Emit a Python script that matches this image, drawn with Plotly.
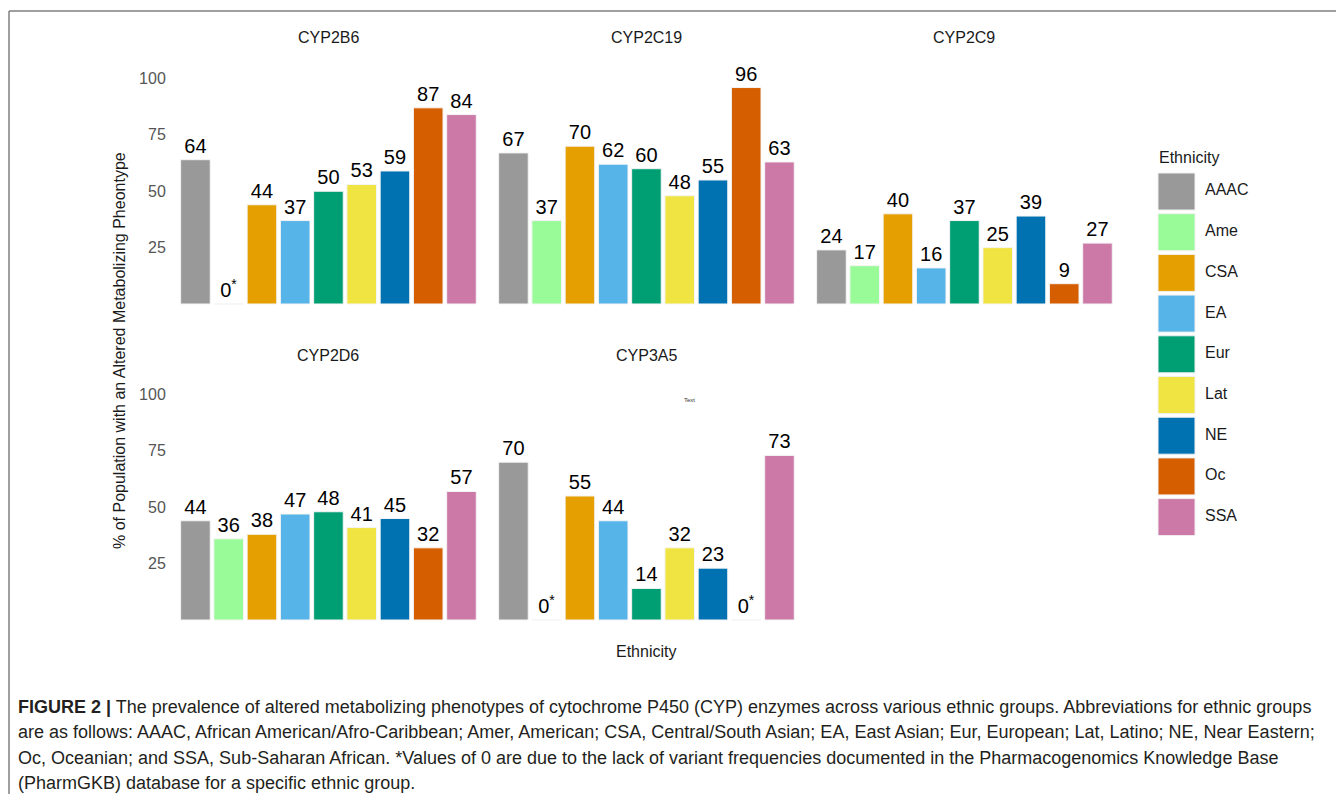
import plotly.graph_objects as go

W, H = 1344, 802          # browser window
OFF = 8                   # default page margin around the plot div
FW, FH = W - 2 * OFF, H - 2 * OFF

# ---------------- data ----------------
ethnicities = ["AAAC", "Ame", "CSA", "EA", "Eur", "Lat", "NE", "Oc", "SSA"]
colors = ["#999999", "#98FB98", "#E69F00", "#56B4E9", "#009E73",
          "#F0E442", "#0072B2", "#D55E00", "#CC79A7"]
genes = ["CYP2B6", "CYP2C19", "CYP2C9", "CYP2D6", "CYP3A5"]
cyp2b6 = [64, 0, 44, 37, 50, 53, 59, 87, 84]
cyp2c19 = [67, 37, 70, 62, 60, 48, 55, 96, 63]
cyp2c9 = [24, 17, 40, 16, 37, 25, 39, 9, 27]
cyp2d6 = [44, 36, 38, 47, 48, 41, 45, 32, 57]
cyp3a5 = [70, 0, 55, 44, 14, 32, 23, 0, 73]
y_ticks = [25, 50, 75, 100]
y_title = "% of Population with an Altered Metabolizing Pheontype"
x_title = "Ethnicity"
legend_title = "Ethnicity"
caption_lines = [
    "<b>FIGURE 2 |</b> The prevalence of altered metabolizing phenotypes of cytochrome P450 (CYP) enzymes across various ethnic groups. Abbreviations for ethnic groups",
    "are as follows: AAAC, African American/Afro-Caribbean; Amer, American; CSA, Central/South Asian; EA, East Asian; Eur, European; Lat, Latino; NE, Near Eastern;",
    "Oc, Oceanian; and SSA, Sub-Saharan African. *Values of 0 are due to the lack of variant frequencies documented in the Pharmacogenomics Knowledge Base",
    "(PharmGKB) database for a specific ethnic group.",
]
series = [cyp2b6, cyp2c19, cyp2c9, cyp2d6, cyp3a5]

# ---------------- layout helpers (page pixel -> paper) ----------------
def fx(p):
    return (p - OFF) / FW

def fy(p):
    return 1 - (p - OFF) / FH

FONT = "Liberation Sans, Arial, sans-serif"
col_px = [(178.8, 478.1), (496.8, 796.1), (814.8, 1114.1)]
row_px = [(69.5, 308.5), (385.5, 624.5)]
title_py = [38, 355]
positions = [(0, 0), (0, 1), (0, 2), (1, 0), (1, 1)]

fig = go.Figure()
layout = dict(
    width=FW, height=FH,
    margin=dict(l=0, r=0, t=0, b=0),
    paper_bgcolor="white", plot_bgcolor="white",
    showlegend=False, bargap=0.11,
    font=dict(family=FONT, size=16, color="#1a1a1a"),
)
annotations = []

for i, (gene, vals) in enumerate(zip(genes, series)):
    r, c = positions[i]
    n = "" if i == 0 else str(i + 1)
    labels = [str(v) if v > 0 else "0<sup>*</sup>" for v in vals]
    fig.add_trace(go.Bar(
        x=ethnicities, y=vals, text=labels,
        textposition="outside", constraintext="none", cliponaxis=False,
        textfont=dict(family=FONT, size=20, color="#000000"),
        marker=dict(color=colors, line=dict(color="#f4f4f4", width=1)),
        xaxis="x" + n, yaxis="y" + n, hoverinfo="x+y",
    ))
    x0, x1 = col_px[c]
    y0, y1 = row_px[r]
    layout["xaxis" + n] = dict(
        domain=[fx(x0), fx(x1)], type="category", categoryorder="array",
        categoryarray=ethnicities, range=[-0.5, 8.5], showticklabels=False,
        showgrid=False, zeroline=False, showline=False, ticks="",
        anchor="y" + n,
    )
    layout["yaxis" + n] = dict(
        domain=[fy(y1), fy(y0)], range=[-2, 104], tickvals=y_ticks,
        showticklabels=(c == 0), showgrid=False, zeroline=False,
        showline=False, ticks="", ticklabelstandoff=12,
        tickfont=dict(family=FONT, size=16, color="#555555"),
        anchor="x" + n,
    )
    annotations.append(dict(
        text=gene, x=fx((x0 + x1) / 2), y=fy(title_py[r]),
        xanchor="center", yanchor="middle",
        font=dict(family=FONT, size=16, color="#1a1a1a"),
    ))

# legend drawn as big square keys on their own axes
fig.add_trace(go.Scatter(
    x=[0] * len(ethnicities), y=ethnicities, mode="markers",
    marker=dict(symbol="square", size=37, color=colors,
                line=dict(color="#f0f0f0", width=1)),
    xaxis="x6", yaxis="y6", cliponaxis=False, hoverinfo="skip",
))
fig.add_trace(go.Scatter(
    x=[0.95] * len(ethnicities), y=ethnicities, mode="text",
    text=ethnicities, textposition="middle right",
    textfont=dict(family=FONT, size=16, color="#1a1a1a"),
    xaxis="x6", yaxis="y6", cliponaxis=False, hoverinfo="skip",
))
layout["xaxis6"] = dict(domain=[fx(1146.5), fx(1206.5)], range=[-1, 1],
                        visible=False, anchor="y6")
layout["yaxis6"] = dict(domain=[fy(537.45), fy(171.15)], type="category",
                        categoryorder="array", categoryarray=ethnicities,
                        range=[8.5, -0.5], visible=False, anchor="x6")

annotations += [
    dict(text=legend_title, x=fx(1157), y=fy(157), xanchor="left",
         yanchor="middle", font=dict(family=FONT, size=16, color="#1a1a1a")),
    dict(text=y_title, x=fx(120), y=fy(350), textangle=-90, xanchor="center",
         yanchor="middle", font=dict(family=FONT, size=16, color="#1a1a1a")),
    dict(text=x_title, x=fx(646), y=fy(651), xanchor="center",
         yanchor="middle", font=dict(family=FONT, size=16, color="#1a1a1a")),
    dict(text="Text", x=fx(689), y=fy(400), xanchor="center",
         yanchor="middle", font=dict(family=FONT, size=6, color="#333333")),
]
for k, line in enumerate(caption_lines):
    annotations.append(dict(
        text=line, x=fx(16), y=fy(707 + 25.3 * k), xanchor="left",
        yanchor="middle", align="left",
        font=dict(family=FONT, size=18, color="#231f20"),
    ))
for a in annotations:
    a.setdefault("xref", "paper")
    a.setdefault("yref", "paper")
    a.setdefault("showarrow", False)
layout["annotations"] = annotations

layout["shapes"] = [
    dict(type="line", xref="paper", yref="paper", x0=fx(9), x1=1.0,
         y0=fy(11), y1=fy(11), line=dict(color="#7f7f7f", width=1.5)),
    dict(type="line", xref="paper", yref="paper", x0=fx(9), x1=fx(9),
         y0=fy(11), y1=0.0, line=dict(color="#7f7f7f", width=1.5)),
]

fig.update_layout(**layout)
fig.write_html("out.html")
